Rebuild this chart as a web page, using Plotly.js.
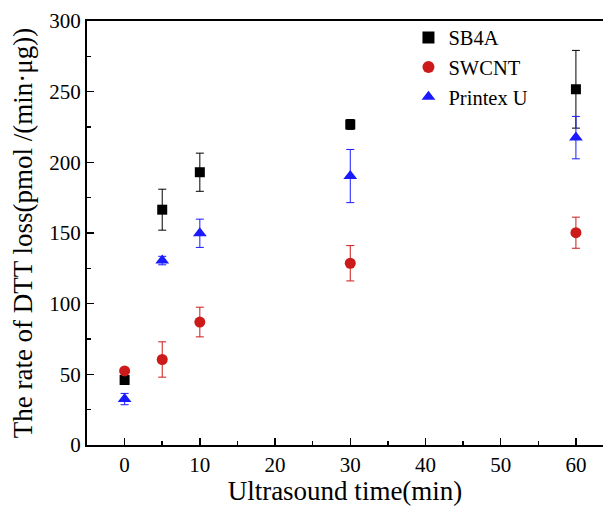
<!DOCTYPE html>
<html><head><meta charset="utf-8">
<script src="https://cdn.plot.ly/plotly-3.0.1.min.js"></script>
<style>html,body{margin:0;padding:0;background:#fff;}#c{width:603px;height:506px;}</style>
</head><body><div id="c"></div>
<script>
const times = [0, 5, 10, 30, 60];
const sb4a = [46, 166.5, 193, 226.8, 251.7];
const sb4aErr = [2, 14.5, 13.5, 3.5, 27.5];
const swcnt = [52.4, 60.5, 87, 128.6, 150.2];
const swcntErr = [1, 12.5, 10.5, 12.5, 11];
const printex = [32.5, 130.5, 149.8, 190.3, 217.5];
const printexErr = [4, 3, 10, 18.8, 15];
const names = ['SB4A', 'SWCNT', 'Printex U'];
const xTicks = [0, 10, 20, 30, 40, 50, 60];
const yTicks = [0, 50, 100, 150, 200, 250, 300];

const font = 'Liberation Serif';
function tr(y, e, name, color, sym, size) {
  return {x: times, y: y, name: name, type: 'scatter', mode: 'markers',
    marker: {color: color, symbol: sym, size: size},
    error_y: {type: 'data', array: e, visible: true, color: color, thickness: 1, width: 4}};
}
const data = [
  tr(sb4a, sb4aErr, names[0], '#000000', 'square', 10),
  tr(swcnt, swcntErr, names[1], '#cc1a1a', 'circle', 11),
  tr(printex, printexErr, names[2], '#1a1aff', 'triangle-up', 12)
];
const layout = {
  width: 603, height: 506,
  margin: {l: 87, r: 0, t: 21, b: 61},
  paper_bgcolor: '#fff', plot_bgcolor: '#fff',
  font: {family: font, color: '#000', size: 21},
  showlegend: true,
  legend: {x: 0.623, y: 1.008, xanchor: 'left', yanchor: 'top', font: {size: 20.5, family: font},
    bgcolor: 'rgba(0,0,0,0)', itemsizing: 'constant', tracegroupgap: 0},
  xaxis: {range: [-5, 63.6], tickvals: xTicks, ticktext: xTicks.map(String),
    showgrid: false, zeroline: false, showline: true, linecolor: '#000', linewidth: 2,
    mirror: true, ticks: 'inside', ticklen: 7, tickwidth: 1.5, tickcolor: '#000',
    minor: {dtick: 5, tick0: 5, ticks: 'inside', ticklen: 4, tickwidth: 1.5, tickcolor: '#000'},
    tickfont: {size: 21, family: font},
    title: {text: 'Ultrasound time(min)', font: {size: 27, family: font}, standoff: 6}},
  yaxis: {range: [0, 300], tickvals: yTicks, ticktext: yTicks.map(String),
    showgrid: false, zeroline: false, showline: true, linecolor: '#000', linewidth: 2,
    ticks: 'inside', ticklen: 7, tickwidth: 1.5, tickcolor: '#000',
    minor: {dtick: 25, ticks: 'inside', ticklen: 4, tickwidth: 1.5, tickcolor: '#000'},
    tickfont: {size: 21, family: font},
    title: {text: 'The rate of DTT loss(pmol /(min·μg))', font: {size: 27, family: font}, standoff: 9}}
};
Plotly.newPlot('c', data, layout, {staticPlot: true, displayModeBar: false});
</script></body></html>
